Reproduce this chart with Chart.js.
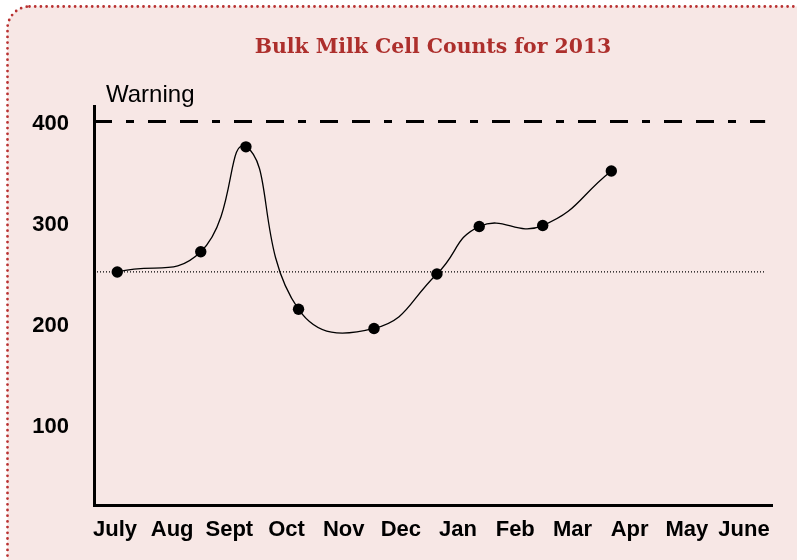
<!DOCTYPE html>
<html>
<head>
<meta charset="utf-8">
<script src="https://cdn.jsdelivr.net/npm/chart.js@4.4.1/dist/chart.umd.min.js"></script>
<style>
  html, body { margin: 0; padding: 0; background: #fff; overflow: hidden; }
  canvas { display: block; }
</style>
</head>
<body>
<canvas id="milk-chart" width="797" height="560"></canvas>
<script>
// months on the x axis (July 2013 .. June 2014)
var months = ['July', 'Aug', 'Sept', 'Oct', 'Nov', 'Dec', 'Jan', 'Feb', 'Mar', 'Apr', 'May', 'June'];
var yTicks = [100, 200, 300, 400];

// test dates as month position (0 = July), and the cell counts
var testPos = [0.04, 1.50, 2.29, 3.21, 4.53, 5.63, 6.37, 7.48, 8.68];
var cellCounts = [251, 271, 375, 214, 195, 249, 296, 297, 351];

var warningLevel = 400;
var averageLevel = 251;
var xMin = -0.367;
var xMax = 11.49;
var lineEnd = 11.37;

var pink = '#f7e7e5';
var borderRed = '#b93232';

var frame = {
  id: 'frame',
  beforeDraw: function (chart) {
    var ctx = chart.ctx;
    ctx.save();
    ctx.fillStyle = '#ffffff';
    ctx.fillRect(0, 0, chart.width, chart.height);
    ctx.beginPath();
    ctx.roundRect(7.5, 6.5, 840, 620, 22);
    ctx.fillStyle = pink;
    ctx.fill();
    ctx.setLineDash([0, 5.7]);
    ctx.lineCap = 'round';
    ctx.lineWidth = 2.8;
    ctx.strokeStyle = borderRed;
    ctx.stroke();
    ctx.restore();
  },
  afterDraw: function (chart) {
    var ctx = chart.ctx;
    var y = chart.scales.y.getPixelForValue(warningLevel);
    ctx.save();
    ctx.font = '24px "Liberation Sans", Arial, sans-serif';
    ctx.fillStyle = '#000';
    ctx.textAlign = 'left';
    ctx.textBaseline = 'alphabetic';
    ctx.fillText('Warning', chart.chartArea.left + 12, y - 20);
    ctx.restore();
  }
};

function toPoints(xs, ys) {
  return xs.map(function (x, i) { return { x: x, y: ys[i] }; });
}

var tickFont = { family: '"Liberation Sans", Arial, sans-serif', size: 22, weight: 'bold' };

var chartEl = document.getElementById('milk-chart');
var milkChart = new Chart(chartEl, {
  type: 'line',
  data: {
    datasets: [
      {
        label: 'Cell count',
        data: toPoints(testPos, cellCounts),
        borderColor: '#000',
        borderWidth: 1.3,
        tension: 0.48,
        pointRadius: 5.7,
        pointBackgroundColor: '#000',
        pointBorderWidth: 0,
        fill: false
      },
      {
        label: 'Warning',
        data: [{ x: xMin, y: warningLevel }, { x: lineEnd, y: warningLevel }],
        borderColor: '#000',
        borderWidth: 3,
        borderDash: [18, 14, 8, 14, 18, 14],
        pointRadius: 0,
        fill: false
      },
      {
        label: 'Average',
        data: [{ x: xMin, y: averageLevel }, { x: lineEnd, y: averageLevel }],
        borderColor: '#000',
        borderWidth: 1.2,
        borderDash: [1, 2],
        pointRadius: 0,
        fill: false
      }
    ]
  },
  plugins: [frame],
  options: {
    responsive: false,
    devicePixelRatio: 1,
    animation: false,
    layout: { padding: { left: 0, right: 25, top: 0, bottom: 0 } },
    plugins: {
      legend: { display: false },
      tooltip: { enabled: false },
      title: {
        display: true,
        text: 'Bulk Milk Cell Counts for 2013',
        color: '#ad2f2c',
        fullSize: false,
        font: { family: '"DejaVu Serif", serif', size: 20.4, weight: 'bold', lineHeight: 1.2 },
        padding: { top: 35, bottom: 47.5 }
      }
    },
    scales: {
      x: {
        type: 'linear',
        min: xMin,
        max: xMax,
        grid: { display: false, drawTicks: false },
        border: { display: true, color: '#000', width: 3 },
        afterBuildTicks: function (scale) {
          scale.ticks = months.map(function (m, i) { return { value: i }; });
        },
        afterFit: function (scale) { scale.height = 55; },
        ticks: {
          autoSkip: false,
          maxRotation: 0,
          padding: 12,
          color: '#000',
          font: tickFont,
          callback: function (value) { return months[Math.round(value)]; }
        }
      },
      y: {
        min: 20,
        max: 414.5,
        grid: { display: false, drawTicks: false },
        border: { display: true, color: '#000', width: 3 },
        afterBuildTicks: function (scale) {
          scale.ticks = yTicks.map(function (v) { return { value: v }; });
        },
        afterFit: function (scale) { scale.width = 94; },
        ticks: {
          padding: 25,
          labelOffset: 2.5,
          color: '#000',
          font: tickFont
        }
      }
    }
  }
});
</script>
</body>
</html>
